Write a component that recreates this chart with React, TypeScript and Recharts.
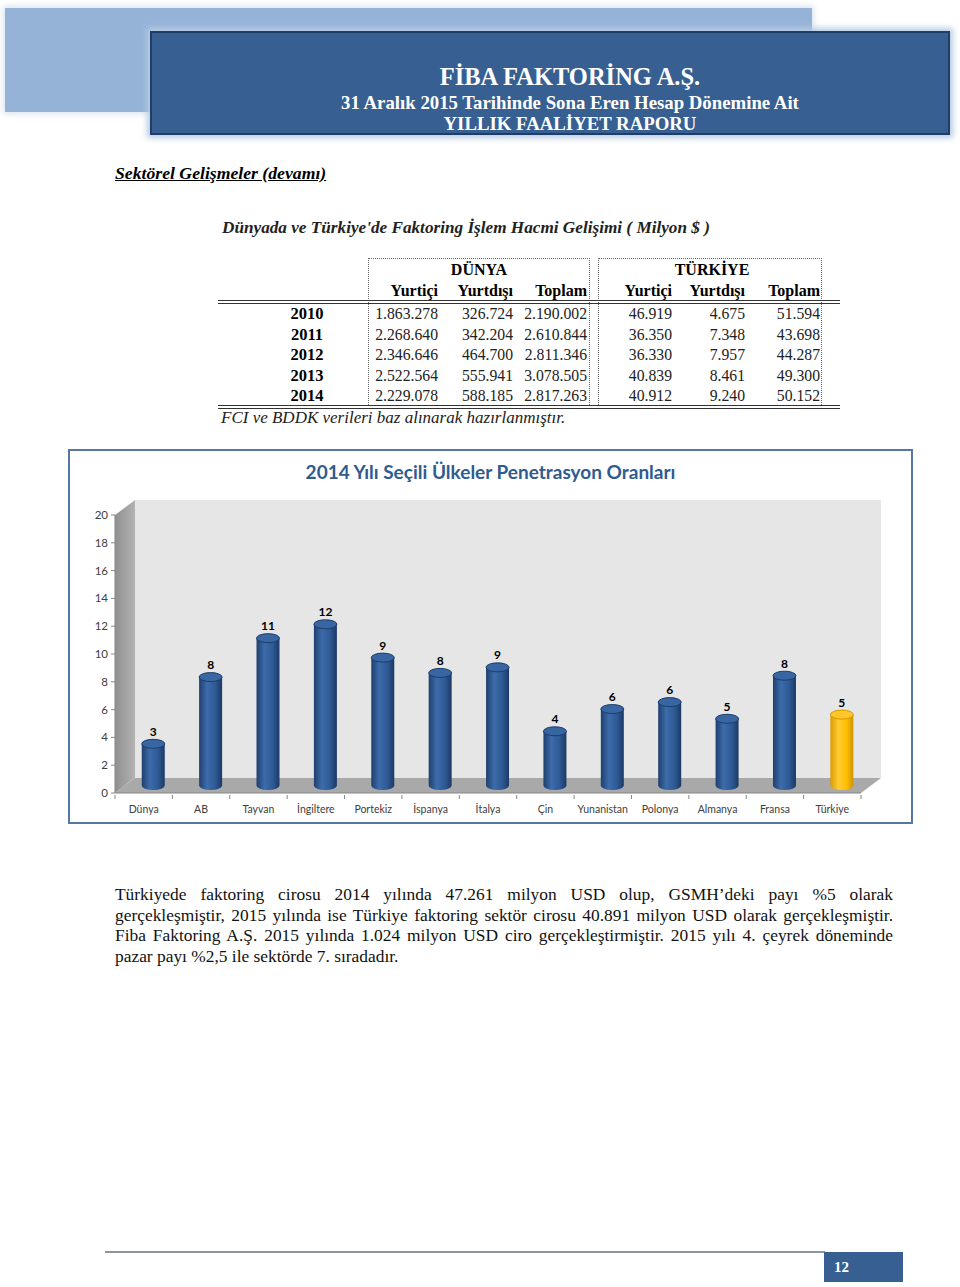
import React from 'react';
import {
  BarChart,
  Bar,
  XAxis,
  YAxis,
  LabelList,
  ReferenceArea,
} from 'recharts';

// tablo verileri (milyon $)
const YEARS = ['2010', '2011', '2012', '2013', '2014'];
const DUNYA_YURTICI = ['1.863.278', '2.268.640', '2.346.646', '2.522.564', '2.229.078'];
const DUNYA_YURTDISI = ['326.724', '342.204', '464.700', '555.941', '588.185'];
const DUNYA_TOPLAM = ['2.190.002', '2.610.844', '2.811.346', '3.078.505', '2.817.263'];
const TR_YURTICI = ['46.919', '36.350', '36.330', '40.839', '40.912'];
const TR_YURTDISI = ['4.675', '7.348', '7.957', '8.461', '9.240'];
const TR_TOPLAM = ['51.594', '43.698', '44.287', '49.300', '50.152'];

// grafik verileri
const COUNTRIES = [
  'Dünya', 'AB', 'Tayvan', 'İngiltere', 'Portekiz', 'İspanya', 'İtalya',
  'Çin', 'Yunanistan', 'Polonya', 'Almanya', 'Fransa', 'Türkiye',
];
const RATES = [3.0, 7.8, 10.6, 11.6, 9.2, 8.1, 8.5, 3.9, 5.5, 6.0, 4.8, 7.9, 5.1];
const Y_TICKS = [0, 2, 4, 6, 8, 10, 12, 14, 16, 18, 20];
const HIGHLIGHT = 'Türkiye';

// paragraf satırları (son satır hariç iki yana yaslı)
const PARAGRAPH = [
  'Türkiyede faktoring cirosu 2014 yılında 47.261 milyon USD olup, GSMH’deki payı %5 olarak',
  'gerçekleşmiştir, 2015 yılında ise Türkiye faktoring sektör cirosu 40.891 milyon USD olarak gerçekleşmiştir.',
  'Fiba Faktoring A.Ş. 2015 yılında 1.024 milyon USD ciro gerçekleştirmiştir. 2015 yılı 4. çeyrek döneminde',
  'pazar payı %2,5 ile sektörde 7. sıradadır.',
];

const chartData = COUNTRIES.map((name, i) => ({ name, rate: RATES[i] }));

const SERIF = "'Liberation Serif', 'Times New Roman', serif";
const SANS = "Lato, 'Open Sans', sans-serif";

const CH_W = 841;
const CH_H = 371;
const MARGIN = { top: 64, right: 50, left: 0, bottom: 4 };
const Y_W = 45;
const PLOT_W = CH_W - MARGIN.left - MARGIN.right - Y_W;
const BAND = PLOT_W / COUNTRIES.length;

// 3D kayması
const WALL_DX = 20;
const WALL_DY = 15;
const BAR_DX = 9.5;
const BAR_DY = 7.5;
const BAR_R = 11.5;
const BAR_RY = 4.5;

function Wall(props: any) {
  const { x, y, width, height } = props;
  const b = y + height;
  return (
    <g>
      <rect x={x + WALL_DX} y={y - WALL_DY} width={width} height={height} fill="#e6e6e6" />
      <polygon
        points={`${x},${y} ${x + WALL_DX},${y - WALL_DY} ${x + WALL_DX},${b - WALL_DY} ${x},${b}`}
        fill="url(#sideWall)"
      />
      <polygon
        points={`${x},${b} ${x + WALL_DX},${b - WALL_DY} ${x + width + WALL_DX},${b - WALL_DY} ${x + width},${b}`}
        fill="#a9a9a9"
      />
    </g>
  );
}

function Cylinder(props: any) {
  const { x, y, width, height, payload } = props;
  const cx = x + width / 2 + BAR_DX;
  const top = y - BAR_DY;
  const bottom = y + height - BAR_DY;
  const hl = payload?.name === HIGHLIGHT;
  return (
    <g>
      <path
        d={`M${cx - BAR_R},${top} L${cx - BAR_R},${bottom} A${BAR_R},${BAR_RY} 0 0 0 ${cx + BAR_R},${bottom} L${cx + BAR_R},${top} Z`}
        fill={hl ? 'url(#cylY)' : 'url(#cylB)'}
      />
      <ellipse
        cx={cx}
        cy={top}
        rx={BAR_R}
        ry={BAR_RY}
        fill={hl ? '#ffc62a' : '#3866a3'}
        stroke={hl ? '#d49a00' : '#1d3d6b'}
        strokeWidth={1}
      />
    </g>
  );
}

function BarLabel(props: any) {
  const { x, y, width, value } = props;
  return (
    <text
      x={x + width / 2 + BAR_DX}
      y={y - BAR_DY - 8}
      textAnchor="middle"
      fontSize={12}
      fontWeight={700}
      fontFamily={SANS}
      fill="#000"
    >
      {Math.round(Number(value))}
    </text>
  );
}

function XTick(props: any) {
  const { x, y, payload, index } = props;
  const last = index === COUNTRIES.length - 1;
  return (
    <g>
      <line x1={x - BAND / 2} x2={x - BAND / 2} y1={y} y2={y + 4} stroke="#868686" />
      {last && <line x1={x + BAND / 2} x2={x + BAND / 2} y1={y} y2={y + 4} stroke="#868686" />}
      <text x={x} y={y + 18} textAnchor="middle" fontSize={10.5} fontFamily={SANS} fill="#404040">
        {payload.value}
      </text>
    </g>
  );
}

function PenetrationChart() {
  return (
    <BarChart width={CH_W} height={CH_H} data={chartData} margin={MARGIN}>
      <defs>
        <linearGradient id="cylB" x1="0" y1="0" x2="1" y2="0">
          <stop offset="0%" stopColor="#1f3f6e" />
          <stop offset="35%" stopColor="#3d6cab" />
          <stop offset="70%" stopColor="#2e5a95" />
          <stop offset="100%" stopColor="#1c3964" />
        </linearGradient>
        <linearGradient id="cylY" x1="0" y1="0" x2="1" y2="0">
          <stop offset="0%" stopColor="#d89c00" />
          <stop offset="35%" stopColor="#ffcc33" />
          <stop offset="70%" stopColor="#ffbf00" />
          <stop offset="100%" stopColor="#cf9300" />
        </linearGradient>
        <linearGradient id="sideWall" x1="0" y1="0" x2="1" y2="0">
          <stop offset="0%" stopColor="#8f8f8f" />
          <stop offset="100%" stopColor="#b3b3b3" />
        </linearGradient>
      </defs>
      <ReferenceArea y1={0} y2={20} shape={<Wall />} ifOverflow="visible" />
      <XAxis
        dataKey="name"
        stroke="#868686"
        tickLine={false}
        tickSize={0}
        tick={<XTick />}
        height={25}
        interval={0}
      />
      <YAxis
        domain={[0, 20]}
        ticks={Y_TICKS}
        width={Y_W}
        stroke="#868686"
        tickSize={4}
        tickMargin={3}
        tick={{ fontSize: 11.5, fill: '#404040', fontFamily: SANS }}
        interval={0}
      />
      <Bar dataKey="rate" shape={<Cylinder />} isAnimationActive={false}>
        <LabelList dataKey="rate" content={<BarLabel />} />
      </Bar>
    </BarChart>
  );
}

const abs = (left: number, top: number, extra: React.CSSProperties = {}): React.CSSProperties => ({
  position: 'absolute',
  left,
  top,
  ...extra,
});

const COLS = [
  { data: DUNYA_YURTICI, head: 'Yurtiçi', right: 438 },
  { data: DUNYA_YURTDISI, head: 'Yurtdışı', right: 513 },
  { data: DUNYA_TOPLAM, head: 'Toplam', right: 587 },
  { data: TR_YURTICI, head: 'Yurtiçi', right: 672 },
  { data: TR_YURTDISI, head: 'Yurtdışı', right: 745 },
  { data: TR_TOPLAM, head: 'Toplam', right: 820 },
];

function Table() {
  const rowTop = (i: number) => 304 + i * 20.5;
  const cell = (right: number, top: number, text: string, bold = false) => (
    <div
      style={abs(right - 120, top, {
        width: 120,
        textAlign: 'right',
        fontSize: bold ? 16 : 15.7,
        lineHeight: '20px',
        fontWeight: bold ? 700 : 400,
        color: bold ? '#000' : '#222',
      })}
    >
      {text}
    </div>
  );
  const dotted = '1px dotted #666';
  return (
    <>
      <div style={abs(368, 258, { width: 222, height: 147, borderTop: dotted, borderLeft: dotted, borderRight: dotted, boxSizing: 'border-box' })} />
      <div style={abs(598, 258, { width: 224, height: 147, borderTop: dotted, borderLeft: dotted, borderRight: dotted, boxSizing: 'border-box' })} />
      <div style={abs(379, 260, { width: 200, textAlign: 'center', fontSize: 16, lineHeight: '20px', fontWeight: 700 })}>DÜNYA</div>
      <div style={abs(612, 260, { width: 200, textAlign: 'center', fontSize: 16, lineHeight: '20px', fontWeight: 700 })}>TÜRKİYE</div>
      {COLS.map((c, j) => (
        <React.Fragment key={j}>
          {cell(c.right, 281, c.head, true)}
          {c.data.map((v, i) => (
            <React.Fragment key={i}>{cell(c.right, rowTop(i), v)}</React.Fragment>
          ))}
        </React.Fragment>
      ))}
      {YEARS.map((yr, i) => (
        <div key={yr} style={abs(267, rowTop(i), { width: 80, textAlign: 'center', fontSize: 16.5, lineHeight: '20px', fontWeight: 700 })}>
          {yr}
        </div>
      ))}
      <div style={abs(218, 300, { width: 622, height: 4, borderTop: '1px solid #333', borderBottom: '1px solid #333', boxSizing: 'border-box' })} />
      <div style={abs(218, 405, { width: 622, height: 4, borderTop: '1px solid #333', borderBottom: '1px solid #333', boxSizing: 'border-box' })} />
      <div style={abs(221, 408, { fontSize: 17, lineHeight: '20px', fontStyle: 'italic', color: '#222' })}>
        FCI ve BDDK verileri baz alınarak hazırlanmıştır.
      </div>
    </>
  );
}

export default function App() {
  return (
    <div style={{ position: 'relative', width: 960, height: 1287, background: '#fff', fontFamily: SERIF, overflow: 'hidden' }}>
      <style>{'body{margin:0}'}</style>

      {/* başlık bandı */}
      <div style={abs(5, 8, { width: 807, height: 104, background: '#95b3d7', boxShadow: '0 0 6px 2px #dbe5f1' })} />
      <div
        style={abs(150, 31, {
          width: 800,
          height: 104,
          background: '#375f91',
          border: '2px solid #1f3d66',
          boxSizing: 'border-box',
          boxShadow: '0 0 6px 3px #b8cce4',
          color: '#fff',
          fontWeight: 700,
          textAlign: 'center',
        })}
      >
        <div style={{ position: 'absolute', left: 40, right: 0, top: 30, fontSize: 24.5, lineHeight: '28px' }}>FİBA FAKTORİNG A.Ş.</div>
        <div style={{ position: 'absolute', left: 40, right: 0, top: 59, fontSize: 18.8, lineHeight: '22px' }}>
          31 Aralık 2015 Tarihinde Sona Eren Hesap Dönemine Ait
        </div>
        <div style={{ position: 'absolute', left: 40, right: 0, top: 80, fontSize: 18.8, lineHeight: '22px' }}>YILLIK FAALİYET RAPORU</div>
      </div>

      <div style={abs(115, 162, { fontSize: 17.7, lineHeight: '22px', fontWeight: 700, fontStyle: 'italic', textDecoration: 'underline' })}>
        Sektörel Gelişmeler (devamı)
      </div>
      <div style={abs(222, 217, { fontSize: 17.2, lineHeight: '22px', fontWeight: 700, fontStyle: 'italic', color: '#222' })}>
        Dünyada ve Türkiye'de Faktoring İşlem Hacmi Gelişimi ( Milyon $ )
      </div>

      <Table />

      {/* grafik çerçevesi */}
      <div style={abs(68, 449, { width: 845, height: 375, border: '2px solid #5677a6', boxSizing: 'border-box', background: '#fff' })}>
        <div
          style={{
            position: 'absolute',
            left: 0,
            right: 0,
            top: 9,
            textAlign: 'center',
            fontFamily: SANS,
            fontWeight: 700,
            fontSize: 19,
            color: '#2f5b8f',
          }}
        >
          2014 Yılı Seçili Ülkeler Penetrasyon Oranları
        </div>
        <div style={{ position: 'absolute', left: 0, top: 0 }}>
          <PenetrationChart />
        </div>
      </div>

      <div style={abs(115, 884, { width: 778, fontSize: 17.4, lineHeight: '20.5px', color: '#111' })}>
        {PARAGRAPH.map((line, i) => (
          <div
            key={i}
            style={{
              textAlign: 'justify',
              textAlignLast: i < PARAGRAPH.length - 1 ? 'justify' : 'left',
              whiteSpace: 'nowrap',
            }}
          >
            {line}
          </div>
        ))}
      </div>

      {/* alt bilgi */}
      <div style={abs(105, 1251, { width: 720, height: 2, background: '#8c969e' })} />
      <div style={abs(824, 1252, { width: 79, height: 30, background: '#375f91', color: '#fff', fontWeight: 700, fontSize: 15, lineHeight: '30px', paddingLeft: 10, boxSizing: 'border-box' })}>
        12
      </div>
    </div>
  );
}
